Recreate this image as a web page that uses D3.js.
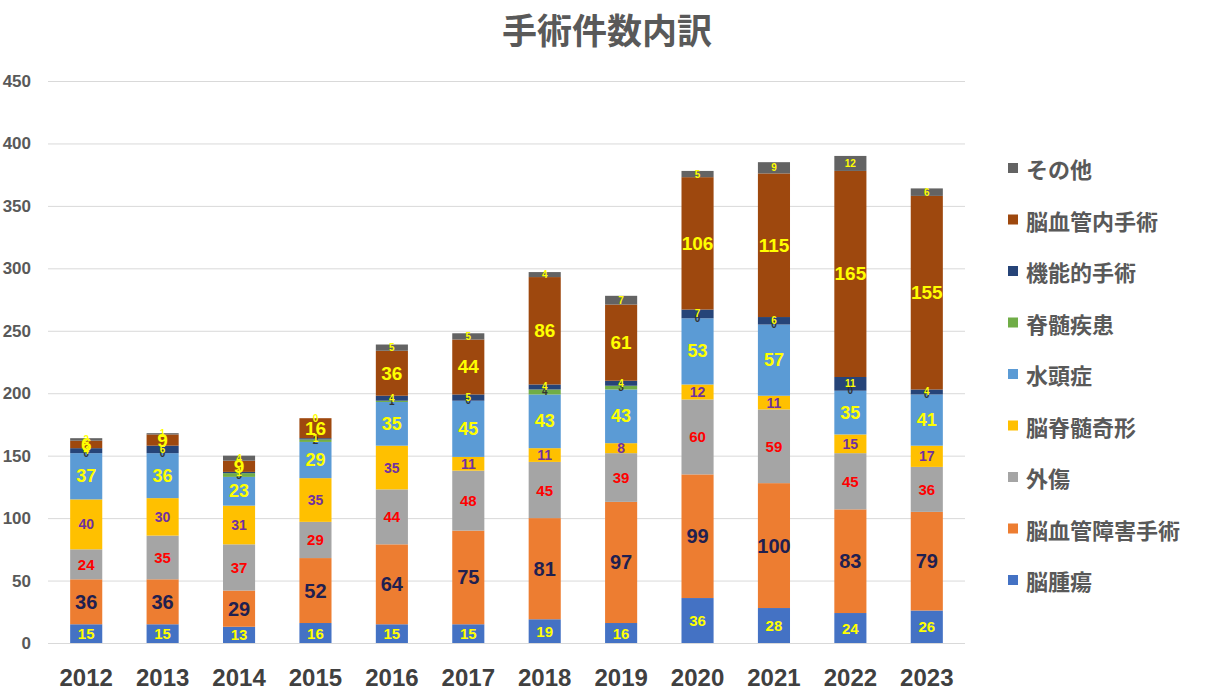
<!DOCTYPE html>
<html><head><meta charset="utf-8">
<script src="https://cdn.jsdelivr.net/npm/d3@7"></script>
<style>
body{margin:0;background:#fff;}
svg{display:block;}
</style></head>
<body><svg id="c" width="1206" height="695"></svg>
<script>
const years = ["2012","2013","2014","2015","2016","2017","2018","2019","2020","2021","2022","2023"];
const seriesNames = ["脳腫瘍","脳血管障害手術","外傷","脳脊髄奇形","水頭症","脊髄疾患","機能的手術","脳血管内手術","その他"];
const tumor      = [15,15,13,16,15,15,19,16,36,28,24,26];
const vascular   = [36,36,29,52,64,75,81,97,99,100,83,79];
const trauma     = [24,35,37,29,44,48,45,39,60,59,45,36];
const malform    = [40,30,31,35,35,11,11,8,12,11,15,17];
const hydro      = [37,36,23,29,35,45,43,43,53,57,35,41];
const spinal     = [0,0,3,2,1,0,4,3,0,0,0,0];
const functional = [4,6,1,1,4,5,4,4,7,6,11,4];
const endovasc   = [6,9,9,16,36,44,86,61,106,115,165,155];
const other      = [2,1,4,0,5,5,4,7,5,9,12,6];
const yTicks = [0,50,100,150,200,250,300,350,400,450];

const values = [tumor,vascular,trauma,malform,hydro,spinal,functional,endovasc,other];
const colors = ["#4472C4","#ED7D31","#A5A5A5","#FFC000","#5B9BD5","#70AD47","#264478","#9E480E","#636363"];
const labelColors = ["#FFFF00","#1F2050","#FF0000","#7030A0","#FFFF00","#333333","#FFFF00","#FFFF00","#FFFF00"];
const labelSizes = [15,20,15,14,18,10,10,19,10];

const svg = d3.select("#c");
const pLeft=48, pRight=965, pTop=81, pBottom=643;
const x = d3.scaleBand().domain(years).range([pLeft,pRight]).paddingInner(0.58).paddingOuter(0.29);
const y = d3.scaleLinear().domain([0,450]).range([pBottom,pTop]);

// gridlines
svg.append("g").selectAll("line").data(yTicks).join("line")
  .attr("x1",pLeft).attr("x2",pRight)
  .attr("y1",d=>y(d)+0.5).attr("y2",d=>y(d)+0.5)
  .attr("stroke","#D9D9D9").attr("stroke-width",1);

// y axis labels
const yAxis = d3.axisLeft(y).tickValues(yTicks).tickSize(0).tickPadding(0);
const ya = svg.append("g").attr("transform","translate(31,0)").call(yAxis);
ya.select(".domain").remove();
ya.selectAll("text").attr("font-family","'Liberation Sans',Arial,sans-serif")
  .attr("font-weight","bold").attr("font-size",17).attr("fill","#595959");

// x axis labels
const xAxis = d3.axisBottom(x).tickSize(0).tickPadding(0);
const xa = svg.append("g").attr("transform","translate(0,669)").call(xAxis);
xa.select(".domain").remove();
xa.selectAll("text").attr("font-family","'Liberation Sans',Arial,sans-serif")
  .attr("font-weight","bold").attr("font-size",24).attr("fill","#404040");

// stack
const table = years.map((yr,i)=>{const o={year:yr}; seriesNames.forEach((s,k)=>o[s]=values[k][i]); return o;});
const stack = d3.stack().keys(seriesNames)(table);

const gBars = svg.append("g");
stack.forEach((layer,k)=>{
  gBars.append("g").attr("fill",colors[k]).selectAll("rect").data(layer).join("rect")
    .attr("x",d=>x(d.data.year)).attr("width",x.bandwidth())
    .attr("y",d=>y(d[1])).attr("height",d=>y(d[0])-y(d[1]));
});
stack.forEach((layer,k)=>{
  svg.append("g").selectAll("text").data(layer).join("text")
    .attr("x",d=>x(d.data.year)+x.bandwidth()/2)
    .attr("y",d=>(y(d[0])+y(d[1]))/2)
    .attr("text-anchor","middle").attr("dominant-baseline","central")
    .attr("font-family","'Liberation Sans',Arial,sans-serif").attr("font-weight","bold")
    .attr("font-size",labelSizes[k]).attr("fill",labelColors[k])
    .text(d=>d.data[seriesNames[k]]);
});

// title
svg.append("text").attr("x",607).attr("y",44).attr("text-anchor","middle")
  .attr("font-family","'Noto Sans CJK JP',sans-serif").attr("font-weight","bold")
  .attr("font-size",35).attr("fill","#595959").text("手術件数内訳");

// legend
const legendOrder = seriesNames.map((s,k)=>k).reverse();
const lg = svg.append("g");
legendOrder.forEach((k,i)=>{
  const ly = 168 + i*51.5;
  lg.append("rect").attr("x",1008).attr("y",ly-5).attr("width",10).attr("height",10).attr("fill",colors[k]);
  lg.append("text").attr("x",1026).attr("y",ly).attr("dominant-baseline","central")
    .attr("font-family","'Noto Sans CJK JP',sans-serif").attr("font-weight","bold")
    .attr("font-size",22).attr("fill","#595959").text(seriesNames[k]);
});
</script></body></html>
